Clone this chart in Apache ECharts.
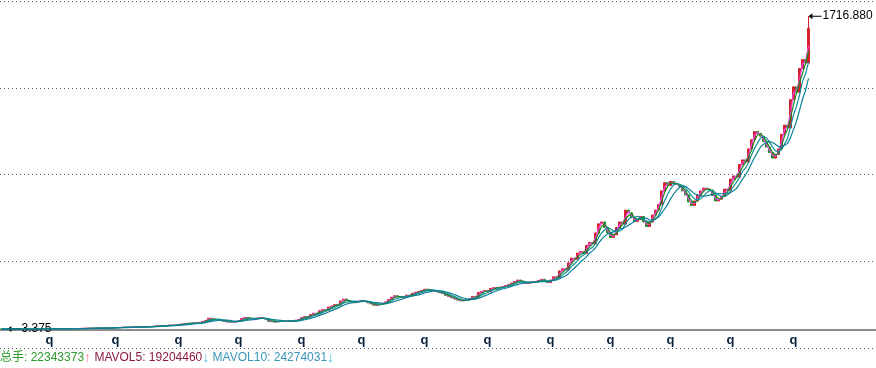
<!DOCTYPE html>
<html>
<head>
<meta charset="utf-8">
<script src="https://cdn.jsdelivr.net/npm/echarts@6/dist/echarts.min.js"></script>
<style>
html,body{margin:0;padding:0;background:#fff;}
#c{width:876px;height:368px;}
</style>
</head>
<body>
<div id="c"></div>
<script>
// closing prices, one per candle
const closes = [
3.6,3.5,3.4,3.5,3.7,3.6,3.8,3.9,3.8,4.0,
4.1,4.0,4.2,4.4,4.3,4.5,4.7,4.6,4.8,5.0,
5.1,5.3,5.2,5.6,5.9,6.3,6.8,7.4,7.2,7.8,
8.3,8.1,8.7,9.2,9.0,9.6,10.4,11.5,12.3,12.0,
12.8,13.5,13.2,14.1,14.8,14.5,15.3,16.0,16.8,16.4,
18,19.5,21,20.3,22,23.5,25,24.2,26.5,28.8,
31,33,35.5,34.8,37,36.2,40,45,51,63,
58,56,55,50,46,43,44,42,45,49,
62,66,64,60,58,63,66,62,58,46,
44,43,45,47,46,48,49,47,52,56,
66,72,70,83,90,88,104,110,107,124,
130,138,135,158,168,160,152,148,154,157,
160,156,148,142,134,136,140,145,152,165,
178,186,181,176,182,190,186,200,205,210,
214,222,218,216,212,208,203,198,188,182,
175,168,162,158,160,164,170,182,178,204,
210,214,208,226,230,229,232,236,242,248,
256,264,272,266,256,254,258,264,262,270,
276,266,258,272,290,285,322,334,328,366,
392,386,420,428,418,462,478,470,530,580,
590,560,530,505,520,560,590,578,655,640,
615,592,605,620,590,565,590,628,655,685,
760,805,790,812,800,795,785,760,738,700,
680,705,738,760,776,770,765,735,705,715,
730,770,762,825,842,835,905,930,918,990,
1040,1085,1075,1060,1030,1000,970,940,960,990,
1070,1120,1105,1260,1330,1300,1430,1480,1460,1650
];
const firstOpen = 3.7;
const lowestPrice = 3.375;   // candle 2 low
const highestPrice = 1716.88; // last candle high
const totalSlots = 292;
const labelIndex = [16,38,59,79,100,120,141,162,183,203,223,243,264];
const labelText = ['q','q','q','q','q','q','q','q','q','q','q','q','q'];
const volTotal = '22343373';
const mavol5 = '19204460';
const mavol10 = '24274031';
const maPeriods = [2,3,5,8];
const maColors = ['#ff44ee','#1a8a1a','#10909a','#0a7f95'];

const cats = [];
for (let i = 0; i < totalSlots; i++) cats.push(String(i));
const ohlc = closes.map((c, i) => {
  const o = i === 0 ? firstOpen : closes[i-1];
  let lo = Math.min(o, c), hi = Math.max(o, c);
  if (i === 2) lo = lowestPrice;
  if (i === closes.length - 1) hi = highestPrice;
  return [o, c, lo, hi];
});
function ma(n) {
  return closes.map((_, i) => {
    const s = Math.max(0, i - n + 1);
    let sum = 0;
    for (let k = s; k <= i; k++) sum += closes[k];
    return +(sum / (i - s + 1)).toFixed(3);
  });
}
const arrowPath = 'path://M0,5 L6,1.5 L6,4.4 L20,4.4 L20,5.6 L6,5.6 L6,8.5 Z';

const maSeries = maPeriods.map((p, k) => ({
  type: 'line', data: ma(p), showSymbol: false, symbol: 'none',
  lineStyle: { width: 1.2, color: maColors[k] }, z: 3 + k, silent: true, animation: false
}));

const chart = echarts.init(document.getElementById('c'), null, { renderer: 'canvas' });
chart.setOption({
  animation: false,
  grid: { left: 0, right: 0, top: 1, bottom: 20, containLabel: false },
  xAxis: {
    type: 'category', data: cats, boundaryGap: true,
    axisLine: { show: true, lineStyle: { color: '#666', width: 1.5 } },
    axisTick: { show: false },
    splitLine: { show: false },
    axisLabel: {
      inside: true, margin: 1,
      interval: (idx) => labelIndex.indexOf(idx) >= 0,
      formatter: (v, idx) => { const j = labelIndex.indexOf(idx); return j >= 0 ? labelText[j] : ''; },
      color: '#0b2540', fontWeight: 'bold', fontSize: 13, fontFamily: 'Liberation Sans, Arial, sans-serif'
    }
  },
  yAxis: [
    { type: 'value', min: -100, max: 1800, show: false, splitLine: { show: false } },
    { type: 'value', min: 0, max: 4, interval: 1, position: 'right',
      axisLine: { show: false }, axisTick: { show: false }, axisLabel: { show: false },
      splitLine: { show: true, lineStyle: { color: '#555', width: 1, type: [1, 3] } } }
  ],
  series: [
    {
      type: 'candlestick', data: ohlc, barWidth: 2, z: 2,
      itemStyle: { color: '#d4202c', color0: '#1e8c1e', borderColor: '#d4202c', borderColor0: '#1e8c1e', borderWidth: 1 },
      markPoint: {
        symbol: arrowPath, symbolSize: [13, 6], symbolOffset: ['50%', 0], symbolKeepAspect: false,
        itemStyle: { color: '#000' },
        label: {
          show: true, position: 'right', distance: 1, color: '#000', fontSize: 12,
          fontFamily: 'Liberation Sans, Arial, sans-serif',
          formatter: (p) => Number(p.value).toFixed(3)
        },
        data: [
          { type: 'max', valueDim: 'highest' },
          { type: 'min', valueDim: 'lowest' }
        ]
      }
    },
    ...maSeries
  ],
  graphic: [{
    type: 'text', left: 0, top: 351,
    style: {
      text: '{g|总手: ' + volTotal + '}{pu|↑} {m|MAVOL5: ' + mavol5 + '}{cd|↓} {b|MAVOL10: ' + mavol10 + '}{cd|↓}',
      font: '12px "Liberation Sans", "Noto Sans CJK SC", sans-serif',
      rich: {
        g: { fill: '#2a9a2a', fontSize: 12, fontFamily: 'Liberation Sans, Noto Sans CJK SC, sans-serif' },
        pu: { fill: '#ff8aa0', fontSize: 14, fontFamily: 'Liberation Sans' },
        m: { fill: '#8c1a40', fontSize: 12, fontFamily: 'Liberation Sans, sans-serif' },
        cd: { fill: '#4cc4ee', fontSize: 14, fontFamily: 'Liberation Sans' },
        b: { fill: '#3a96b8', fontSize: 12, fontFamily: 'Liberation Sans, sans-serif' }
      }
    }
  }]
});
</script>
</body>
</html>
